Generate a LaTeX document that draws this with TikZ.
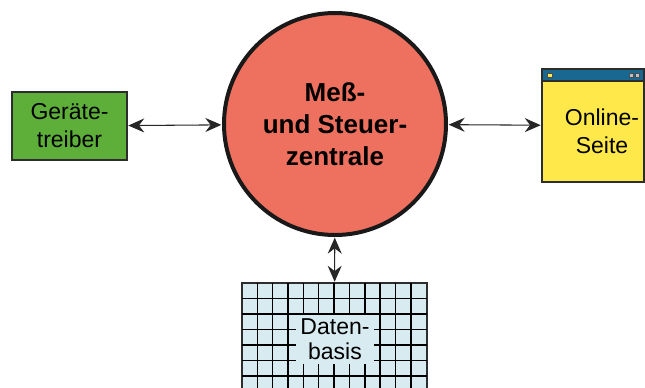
\documentclass[tikz,border=0pt]{standalone}
\usepackage{fontspec}
\setmainfont{Liberation Sans}
\usetikzlibrary{arrows.meta}

\definecolor{treibergreen}{RGB}{93,175,58}
\definecolor{zentralered}{RGB}{238,113,96}
\definecolor{seiteyellow}{RGB}{255,232,74}
\definecolor{barblue}{RGB}{24,104,146}
\definecolor{basisblue}{RGB}{216,235,240}
\definecolor{framegray}{RGB}{45,45,45}

\tikzset{every picture/.style={line width=0.75pt}}

\begin{document}
\begin{tikzpicture}[x=0.75pt,y=0.75pt,yscale=-1,xscale=1,
	box/.style={draw=framegray, line width=0.9pt, inner sep=0pt, font=\fontsize{17.25}{21}\selectfont, align=center},
	link/.style={>={Stealth[length=12pt,width=10.5pt,inset=4pt]}, <->, line width=0.8pt, draw=black!85, shorten <=0.5pt, shorten >=0.5pt}]
	\useasboundingbox (0,0) rectangle (645,387);
	\clip (0,0) rectangle (645,387);

	% Zentrale
	\node (zentrale) [circle, draw=black!90, line width=3pt, fill=zentralered, minimum size=166.5pt, inner sep=0pt,
		font=\bfseries\fontsize{19.5}{24}\selectfont, align=center] at (335,124) {Meß-\\und Steuer-\\zentrale};

	% Geraetetreiber
	\node (treiber) [box, fill=treibergreen, minimum width=86.25pt, minimum height=51pt] at (69.5,126) {Geräte-\\treiber};

	% Online-Seite
	\node (seite) [box, fill=seiteyellow, minimum width=76.5pt, minimum height=84.75pt] at (593,125.5) {};
	\draw [draw=framegray, line width=0.9pt, fill=barblue] (542,69) rectangle (644,81);
	\draw [draw=black!70, line width=0.4pt, fill=seiteyellow] (547,73) rectangle (552,77);
	\draw [draw=black!70, line width=0.4pt, fill=black!25] (629,73) rectangle (633,77);
	\draw [draw=black!70, line width=0.4pt, fill=black!25] (635,73) rectangle (639,77);
	\node (seitetext) [font=\fontsize{17.25}{21}\selectfont, align=center] at (602,131.5) {Online-\\Seite};

	% Datenbasis
	\node (basis) [box, fill=basisblue, minimum width=138.75pt, minimum height=95.25pt] at (334.5,346.5) {};
	\foreach \i in {1,...,11} {
		\draw [line width=1.1pt, draw=black] (242+\i*15.35,283) -- ++(0,127);
	}
	\foreach \j in {1,...,7} {
		\draw [line width=1.1pt, draw=black] (242,283+\j*15.5) -- ++(185,0);
	}
	\node (basistext) [fill=basisblue, inner xsep=3pt, inner ysep=3pt, font=\fontsize{17.25}{19}\selectfont, align=center] at (335,339.5) {Daten-\\basis};

	% Verbindungen
	\draw [link] (treiber) -- (zentrale);
	\draw [link] (zentrale) -- (seite);
	\draw [link] (zentrale) -- (basis);

\end{tikzpicture}
\end{document}
